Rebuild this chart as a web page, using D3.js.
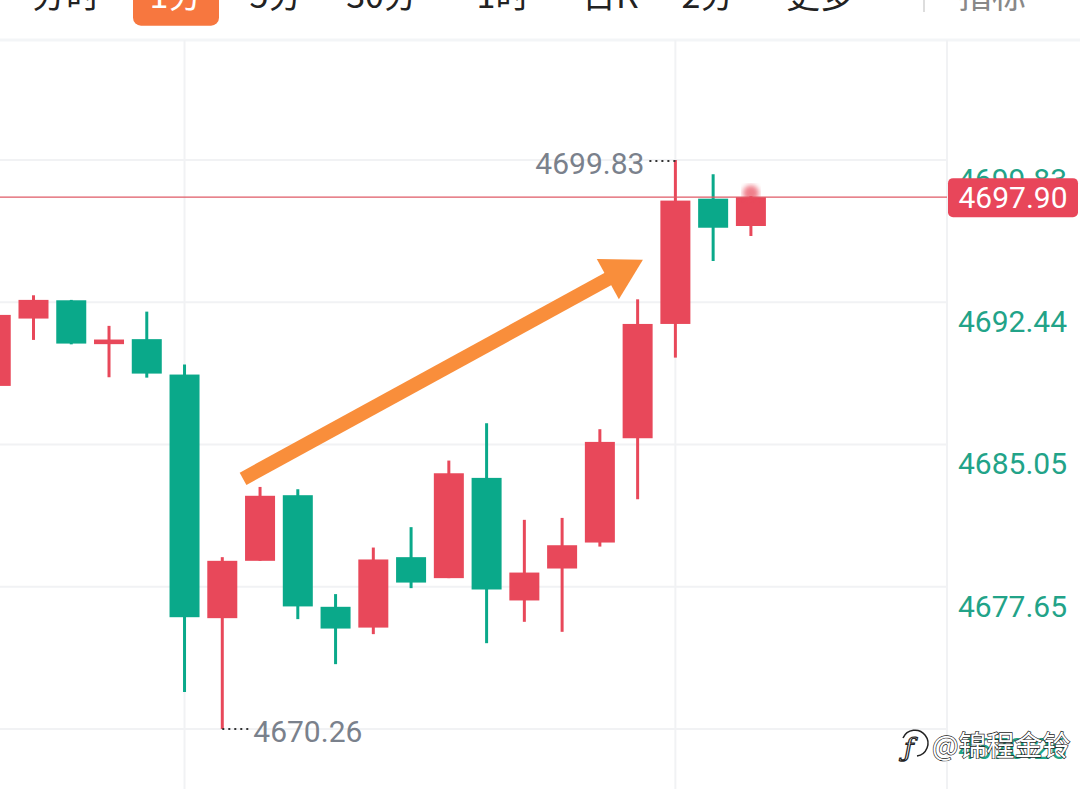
<!DOCTYPE html>
<html><head><meta charset="utf-8">
<script src="https://cdn.jsdelivr.net/npm/d3@7/dist/d3.min.js"></script>
<style>html,body{margin:0;padding:0;background:#fff;overflow:hidden}svg{display:block}</style>
</head><body>
<svg id="c" width="1080" height="789"></svg>
<script>
// ---- data ----
const tabs = ["分时","1分","5分","30分","1时","日K","2分","更多"];
const activeTab = "1分";
const indicatorTab = "指标";
const opens  = [4688.09,4691.59,4692.54,4690.26,4690.52,4688.68,4676.02,4679.00,4682.41,4676.61,4675.53,4679.19,4678.10,4683.31,4676.94,4678.60,4679.95,4685.37,4691.31,4697.82,4696.40];
const highs  = [4692.30,4692.80,4692.56,4691.21,4691.95,4689.20,4679.19,4682.84,4682.72,4677.27,4679.69,4680.75,4684.21,4686.15,4681.13,4681.23,4685.84,4692.59,4699.83,4699.09,4697.95];
const lows   = [4687.60,4690.48,4690.25,4688.54,4688.52,4672.18,4670.26,4679.00,4675.97,4673.63,4675.19,4677.58,4678.10,4674.72,4675.83,4675.31,4679.74,4682.20,4689.56,4694.58,4695.88];
const closes = [4691.78,4692.56,4690.29,4690.50,4688.73,4676.07,4679.00,4682.38,4676.63,4675.48,4679.07,4677.87,4683.55,4677.51,4678.39,4679.81,4685.18,4691.31,4697.72,4696.31,4697.90];
const priceTicks = [4699.83,4692.44,4685.05,4677.65,4670.26];
const lastPrice = 4697.90;
const maxMark = {i:18, p:4699.83, label:"4699.83"};
const minMark = {i:6, p:4670.26, label:"4670.26"};
const vGridIdx = [5,18];
const arrowFrom = {i:6.55, p:4683.26};
const arrowTo = {i:17.14, p:4694.64};
const watermark = "@锦程金铃";

// ---- layout ----
const W=1080,H=789, plotRight=947, plotTop=40;
const svg=d3.select("#c");
const x=d3.scaleLinear().domain([0,20]).range([-4.26,750.9]);
const y=d3.scaleLinear().domain([4670.26,4699.83]).range([729,160]);
const bodyW=30;
const RED="#e8485a", GREEN="#0aa98a", GRID="#f1f2f4";
const numFont="Roboto, 'Noto Sans', sans-serif";
const cjk="'Noto Sans CJK SC','Noto Sans',sans-serif";

// toolbar
const tabX=[66,176,276,382,503,610,708,820];
svg.append("rect").attr("x",133).attr("y",-20).attr("width",86).attr("height",45.7).attr("rx",8).attr("fill","#f7773f");
svg.selectAll("text.tab").data(tabs).join("text").attr("class","tab")
  .attr("x",(d,i)=>tabX[i]).attr("y",8).attr("text-anchor","middle")
  .attr("font-family",cjk).attr("font-size",34)
  .attr("fill",d=>d===activeTab?"#fff":"#222").text(d=>d);
svg.append("line").attr("x1",924).attr("x2",924).attr("y1",0).attr("y2",12).attr("stroke","#ddd").attr("stroke-width",2);
svg.append("text").attr("x",992).attr("y",8).attr("text-anchor","middle").attr("font-family",cjk).attr("font-size",34).attr("fill","#888").text(indicatorTab);
svg.append("line").attr("x1",0).attr("x2",W).attr("y1",plotTop).attr("y2",plotTop).attr("stroke","#f3f5f7").attr("stroke-width",3);

// grid
svg.selectAll("line.hg").data(priceTicks).join("line").attr("class","hg")
  .attr("x1",0).attr("x2",plotRight).attr("y1",d=>y(d)).attr("y2",d=>y(d))
  .attr("stroke",GRID).attr("stroke-width",2);
svg.selectAll("line.vg").data(vGridIdx).join("line").attr("class","vg")
  .attr("x1",d=>x(d)).attr("x2",d=>x(d)).attr("y1",plotTop).attr("y2",H)
  .attr("stroke",GRID).attr("stroke-width",2);
svg.append("line").attr("x1",plotRight).attr("x2",plotRight).attr("y1",plotTop).attr("y2",H).attr("stroke",GRID).attr("stroke-width",2);

// axis labels
svg.selectAll("text.yl").data(priceTicks).join("text").attr("class","yl")
  .attr("x",958).attr("y",d=>y(d)+30).attr("font-family",numFont).attr("font-size",30)
  .attr("fill","#22a388").text(d=>d.toFixed(2));

// candles
const idx=d3.range(opens.length);
const g=svg.append("g");
idx.forEach(i=>{
  const up=closes[i]>=opens[i];
  const col=up?RED:GREEN;
  g.append("line").attr("x1",x(i)).attr("x2",x(i)).attr("y1",y(highs[i])).attr("y2",y(lows[i]))
    .attr("stroke",col).attr("stroke-width",3);
  const t=y(Math.max(opens[i],closes[i])), b=y(Math.min(opens[i],closes[i]));
  g.append("rect").attr("x",x(i)-bodyW/2).attr("y",t).attr("width",bodyW).attr("height",Math.max(2,b-t)).attr("fill",col);
});

// last price line
svg.append("line").attr("x1",0).attr("x2",plotRight).attr("y1",y(lastPrice)).attr("y2",y(lastPrice)).attr("stroke","#df5a66").attr("stroke-width",1.2);
const defs=svg.append("defs");
defs.append("filter").attr("id","blur").append("feGaussianBlur").attr("stdDeviation",2.5);
svg.append("circle").attr("cx",x(20)).attr("cy",y(lastPrice)-4).attr("r",8).attr("fill",RED).attr("opacity",0.7).attr("filter","url(#blur)");
svg.append("rect").attr("x",948).attr("y",y(lastPrice)-19).attr("width",130).attr("height",39).attr("rx",5).attr("fill","#e8465a");
svg.append("text").attr("x",1013).attr("y",y(lastPrice)+11).attr("text-anchor","middle").attr("font-family",numFont).attr("font-size",30).attr("fill","#fff").text(lastPrice.toFixed(2));

// max / min marks
svg.append("line").attr("x1",x(maxMark.i)-26).attr("x2",x(maxMark.i)).attr("y1",y(maxMark.p)+1).attr("y2",y(maxMark.p)+1)
  .attr("stroke","#333").attr("stroke-width",2).attr("stroke-dasharray","2,4");
svg.append("text").attr("x",x(maxMark.i)-31).attr("y",y(maxMark.p)+14).attr("text-anchor","end").attr("font-family",numFont).attr("font-size",30).attr("fill","#7a818c").text(maxMark.label);
svg.append("line").attr("x1",x(minMark.i)).attr("x2",x(minMark.i)+27).attr("y1",y(minMark.p)).attr("y2",y(minMark.p))
  .attr("stroke","#333").attr("stroke-width",2).attr("stroke-dasharray","2,4");
svg.append("text").attr("x",x(minMark.i)+31).attr("y",y(minMark.p)+13).attr("font-family",numFont).attr("font-size",30).attr("fill","#7a818c").text(minMark.label);

// arrow
const x0=x(arrowFrom.i), y0=y(arrowFrom.p), x1=x(arrowTo.i), y1=y(arrowTo.p);
const dx=x1-x0, dy=y1-y0, len=Math.hypot(dx,dy), ux=dx/len, uy=dy/len;
const headL=40, headW=23;
const bx=x1-ux*headL, by=y1-uy*headL;
const ORANGE="#f98e3b";
svg.append("line").attr("x1",x0).attr("y1",y0).attr("x2",bx+ux*4).attr("y2",by+uy*4).attr("stroke",ORANGE).attr("stroke-width",14);
svg.append("path").attr("d",`M${x1},${y1}L${bx-uy*headW},${by+ux*headW}L${bx+uy*headW},${by-ux*headW}Z`).attr("fill",ORANGE);

// watermark
const wm=svg.append("g");
wm.append("text").attr("x",904).attr("y",757).attr("font-family","'DejaVu Serif',serif").attr("font-style","italic").attr("font-size",26)
  .attr("fill","#fff").attr("stroke","#222").attr("stroke-width",1.2).text("ƒ");
wm.append("path").attr("d","M903,738 a13,13 0 1,1 14,18").attr("fill","none").attr("stroke","#222").attr("stroke-width",1.5);
wm.append("text").attr("x",932).attr("y",756).attr("font-family",cjk).attr("font-size",28)
  .attr("fill","#fff").attr("stroke","#222").attr("stroke-width",1.3).attr("paint-order","stroke").text(watermark);
</script>
</body></html>
